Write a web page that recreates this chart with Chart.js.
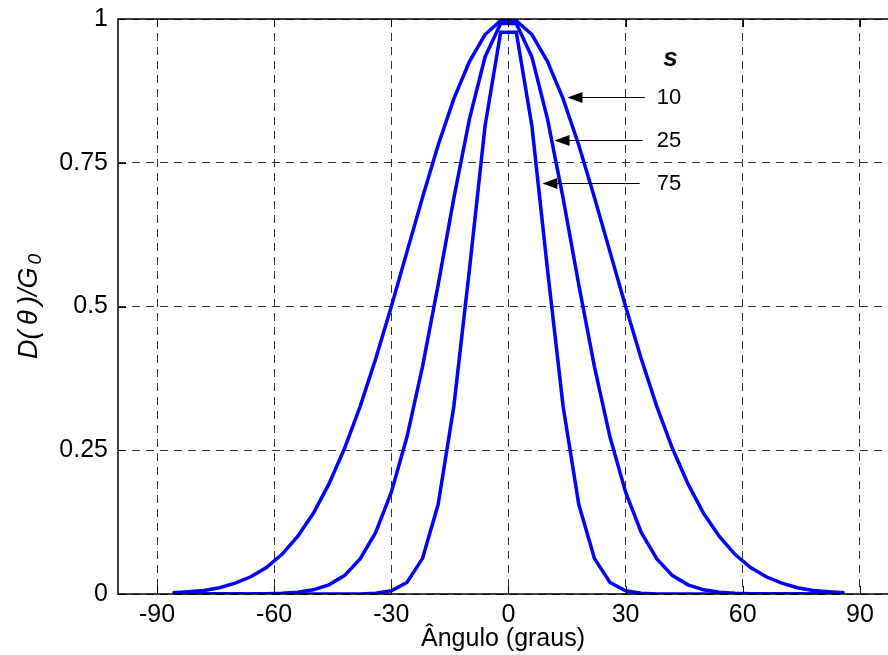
<!DOCTYPE html>
<html>
<head>
<meta charset="utf-8">
<script src="https://cdn.jsdelivr.net/npm/chart.js@4/dist/chart.umd.min.js"></script>
<style>
  html, body { margin: 0; padding: 0; background: #fff; overflow: hidden; }
  #wrap { width: 888px; height: 655px; }
  canvas { display: block; }
</style>
</head>
<body>
<div id="wrap"><canvas id="c" width="888" height="655"></canvas></div>
<script>
// ---- data ----
const angles = [-86,-82,-78,-74,-70,-66,-62,-58,-54,-50,-46,-42,-38,-34,-30,-26,-22,-18,-14,-10,-6,-2,
                2,6,10,14,18,22,26,30,34,38,42,46,50,54,58,62,66,70,74,78,82,86];
const s10 = [0.002,0.004,0.006,0.011,0.019,0.030,0.046,0.069,0.100,0.140,0.191,0.253,0.326,0.409,0.500,0.595,0.690,0.781,0.861,0.926,0.973,0.997,
             0.997,0.973,0.926,0.861,0.781,0.690,0.595,0.500,0.409,0.326,0.253,0.191,0.140,0.100,0.069,0.046,0.030,0.019,0.011,0.006,0.004,0.002];
const s25 = [0,0,0,0,0,0.0002,0.0004,0.0012,0.0031,0.0073,0.016,0.032,0.061,0.107,0.177,0.273,0.396,0.538,0.688,0.826,0.934,0.992,
             0.992,0.934,0.826,0.688,0.538,0.396,0.273,0.177,0.107,0.061,0.032,0.016,0.0073,0.0031,0.0012,0.0004,0.0002,0,0,0,0,0];
const s75 = [0,0,0,0,0,0,0,0,0,0,0,0,0.0002,0.0012,0.0055,0.020,0.062,0.156,0.326,0.564,0.814,0.977,
             0.977,0.814,0.564,0.326,0.156,0.062,0.020,0.0055,0.0012,0.0002,0,0,0,0,0,0,0,0,0,0,0,0];
const seriesNames = ['10','25','75'];
const xTicks = [-90,-60,-30,0,30,60,90];
const yTicks = [0,0.25,0.5,0.75,1];
const xTitle = 'Ângulo (graus)';
const yTitleMain = 'D(\u2009θ\u2009)/G';
const yTitleSub = '0';
const legendTitle = 's';
// arrow annotations in data units: tip [x,y], tail x, label x
const arrowTips = [[15.1,0.865],[11.8,0.789],[8.7,0.714]];
const arrowTailX = [34.9,34.4,33.6];
const labelX = 38;
const legendTitlePos = [41.5,0.93];

const FONT = "'Liberation Sans', Arial, sans-serif";

const toPts = arr => angles.map((a,i)=>({x:a, y:arr[i]}));

const overlay = {
  id: 'overlay',
  afterDatasetsDraw(chart) {
    const {ctx, chartArea:a, scales:{x, y}} = chart;
    ctx.save();
    // axes box (top, left, bottom; the right side lies outside the visible window)
    ctx.strokeStyle = '#000';
    ctx.lineWidth = 1.5;
    ctx.setLineDash([]);
    ctx.beginPath();
    ctx.moveTo(a.right + 2, a.top); ctx.lineTo(a.left, a.top);
    ctx.lineTo(a.left, a.bottom); ctx.lineTo(a.right + 2, a.bottom);
    ctx.stroke();
    // inward ticks
    ctx.lineWidth = 1;
    const tl = 8;
    xTicks.forEach(v => {
      const px = Math.round(x.getPixelForValue(v)) + 0.5;
      ctx.beginPath();
      ctx.moveTo(px, a.bottom); ctx.lineTo(px, a.bottom - tl);
      ctx.moveTo(px, a.top); ctx.lineTo(px, a.top + tl);
      ctx.stroke();
    });
    yTicks.forEach(v => {
      const py = Math.round(y.getPixelForValue(v)) + 0.5;
      ctx.beginPath();
      ctx.moveTo(a.left, py); ctx.lineTo(a.left + tl, py);
      ctx.stroke();
    });
    // arrows and labels
    ctx.fillStyle = '#000';
    ctx.strokeStyle = '#000';
    arrowTips.forEach((t, i) => {
      const tx = x.getPixelForValue(t[0]);
      const ty = Math.round(y.getPixelForValue(t[1])) + 0.5;
      const ex = x.getPixelForValue(arrowTailX[i]);
      ctx.lineWidth = 1;
      ctx.beginPath();
      ctx.moveTo(ex, ty); ctx.lineTo(tx + 14, ty);
      ctx.stroke();
      ctx.beginPath();
      ctx.moveTo(tx, ty);
      ctx.lineTo(tx + 15, ty - 5.5);
      ctx.lineTo(tx + 15, ty + 5.5);
      ctx.closePath();
      ctx.fill();
      ctx.font = '22px ' + FONT;
      ctx.textAlign = 'left';
      ctx.textBaseline = 'middle';
      ctx.fillText(seriesNames[i], x.getPixelForValue(labelX), ty);
    });
    ctx.font = 'italic bold 26px ' + FONT;
    ctx.textAlign = 'center';
    ctx.textBaseline = 'middle';
    ctx.fillText(legendTitle, x.getPixelForValue(legendTitlePos[0]), y.getPixelForValue(legendTitlePos[1]));
    // y axis title with subscript
    const cy = y.getPixelForValue(0.5);
    ctx.translate(27, cy);
    ctx.rotate(-Math.PI / 2);
    ctx.font = 'italic 27px ' + FONT;
    const w1 = ctx.measureText(yTitleMain).width;
    ctx.font = 'italic 19px ' + FONT;
    const w2 = ctx.measureText(yTitleSub).width;
    const start = -(w1 + w2 + 3) / 2;
    ctx.textAlign = 'left';
    ctx.textBaseline = 'alphabetic';
    ctx.font = 'italic 27px ' + FONT;
    ctx.fillText(yTitleMain, start, 10);
    ctx.font = 'italic 19px ' + FONT;
    ctx.fillText(yTitleSub, start + w1 + 3, 14);
    ctx.restore();
  }
};

const lineDs = (label, arr) => ({
  label, data: toPts(arr),
  borderColor: '#0000ff', borderWidth: 3.5, pointRadius: 0, tension: 0, fill: false
});

new Chart(document.getElementById('c'), {
  type: 'line',
  data: { datasets: [lineDs(seriesNames[0], s10), lineDs(seriesNames[1], s25), lineDs(seriesNames[2], s75)] },
  options: {
    responsive: false,
    animation: false,
    layout: { padding: { top: 19, right: 0, left: 0, bottom: 0 } },
    plugins: { legend: { display: false }, tooltip: { enabled: false } },
    scales: {
      x: {
        type: 'linear', min: -100, max: 97.2,
        afterBuildTicks: s => { s.ticks = xTicks.map(v => ({value: v})); },
        afterFit: s => { s.height = 61; s.paddingLeft = 0; s.paddingRight = 0; },
        grid: { color: '#333', lineWidth: 1, drawTicks: false },
        border: { display: false, dash: [8, 6] },
        ticks: { color: '#000', font: { family: FONT, size: 25 }, padding: 6, maxRotation: 0, autoSkip: false,
                 callback: v => String(v) },
        title: { display: true, text: xTitle, color: '#000', font: { family: FONT, size: 25, lineHeight: 1.2 },
                 padding: { top: 0, bottom: 1 } }
      },
      y: {
        type: 'linear', min: 0, max: 1,
        afterBuildTicks: s => { s.ticks = yTicks.map(v => ({value: v})); },
        afterFit: s => { s.width = 118; s.paddingTop = 0; s.paddingBottom = 0; },
        grid: { color: '#333', lineWidth: 1, drawTicks: false },
        border: { display: false, dash: [8, 6] },
        ticks: { color: '#000', font: { family: FONT, size: 25 }, padding: 10, autoSkip: false,
                 callback: v => String(v) }
      }
    }
  },
  plugins: [overlay]
});
</script>
</body>
</html>
